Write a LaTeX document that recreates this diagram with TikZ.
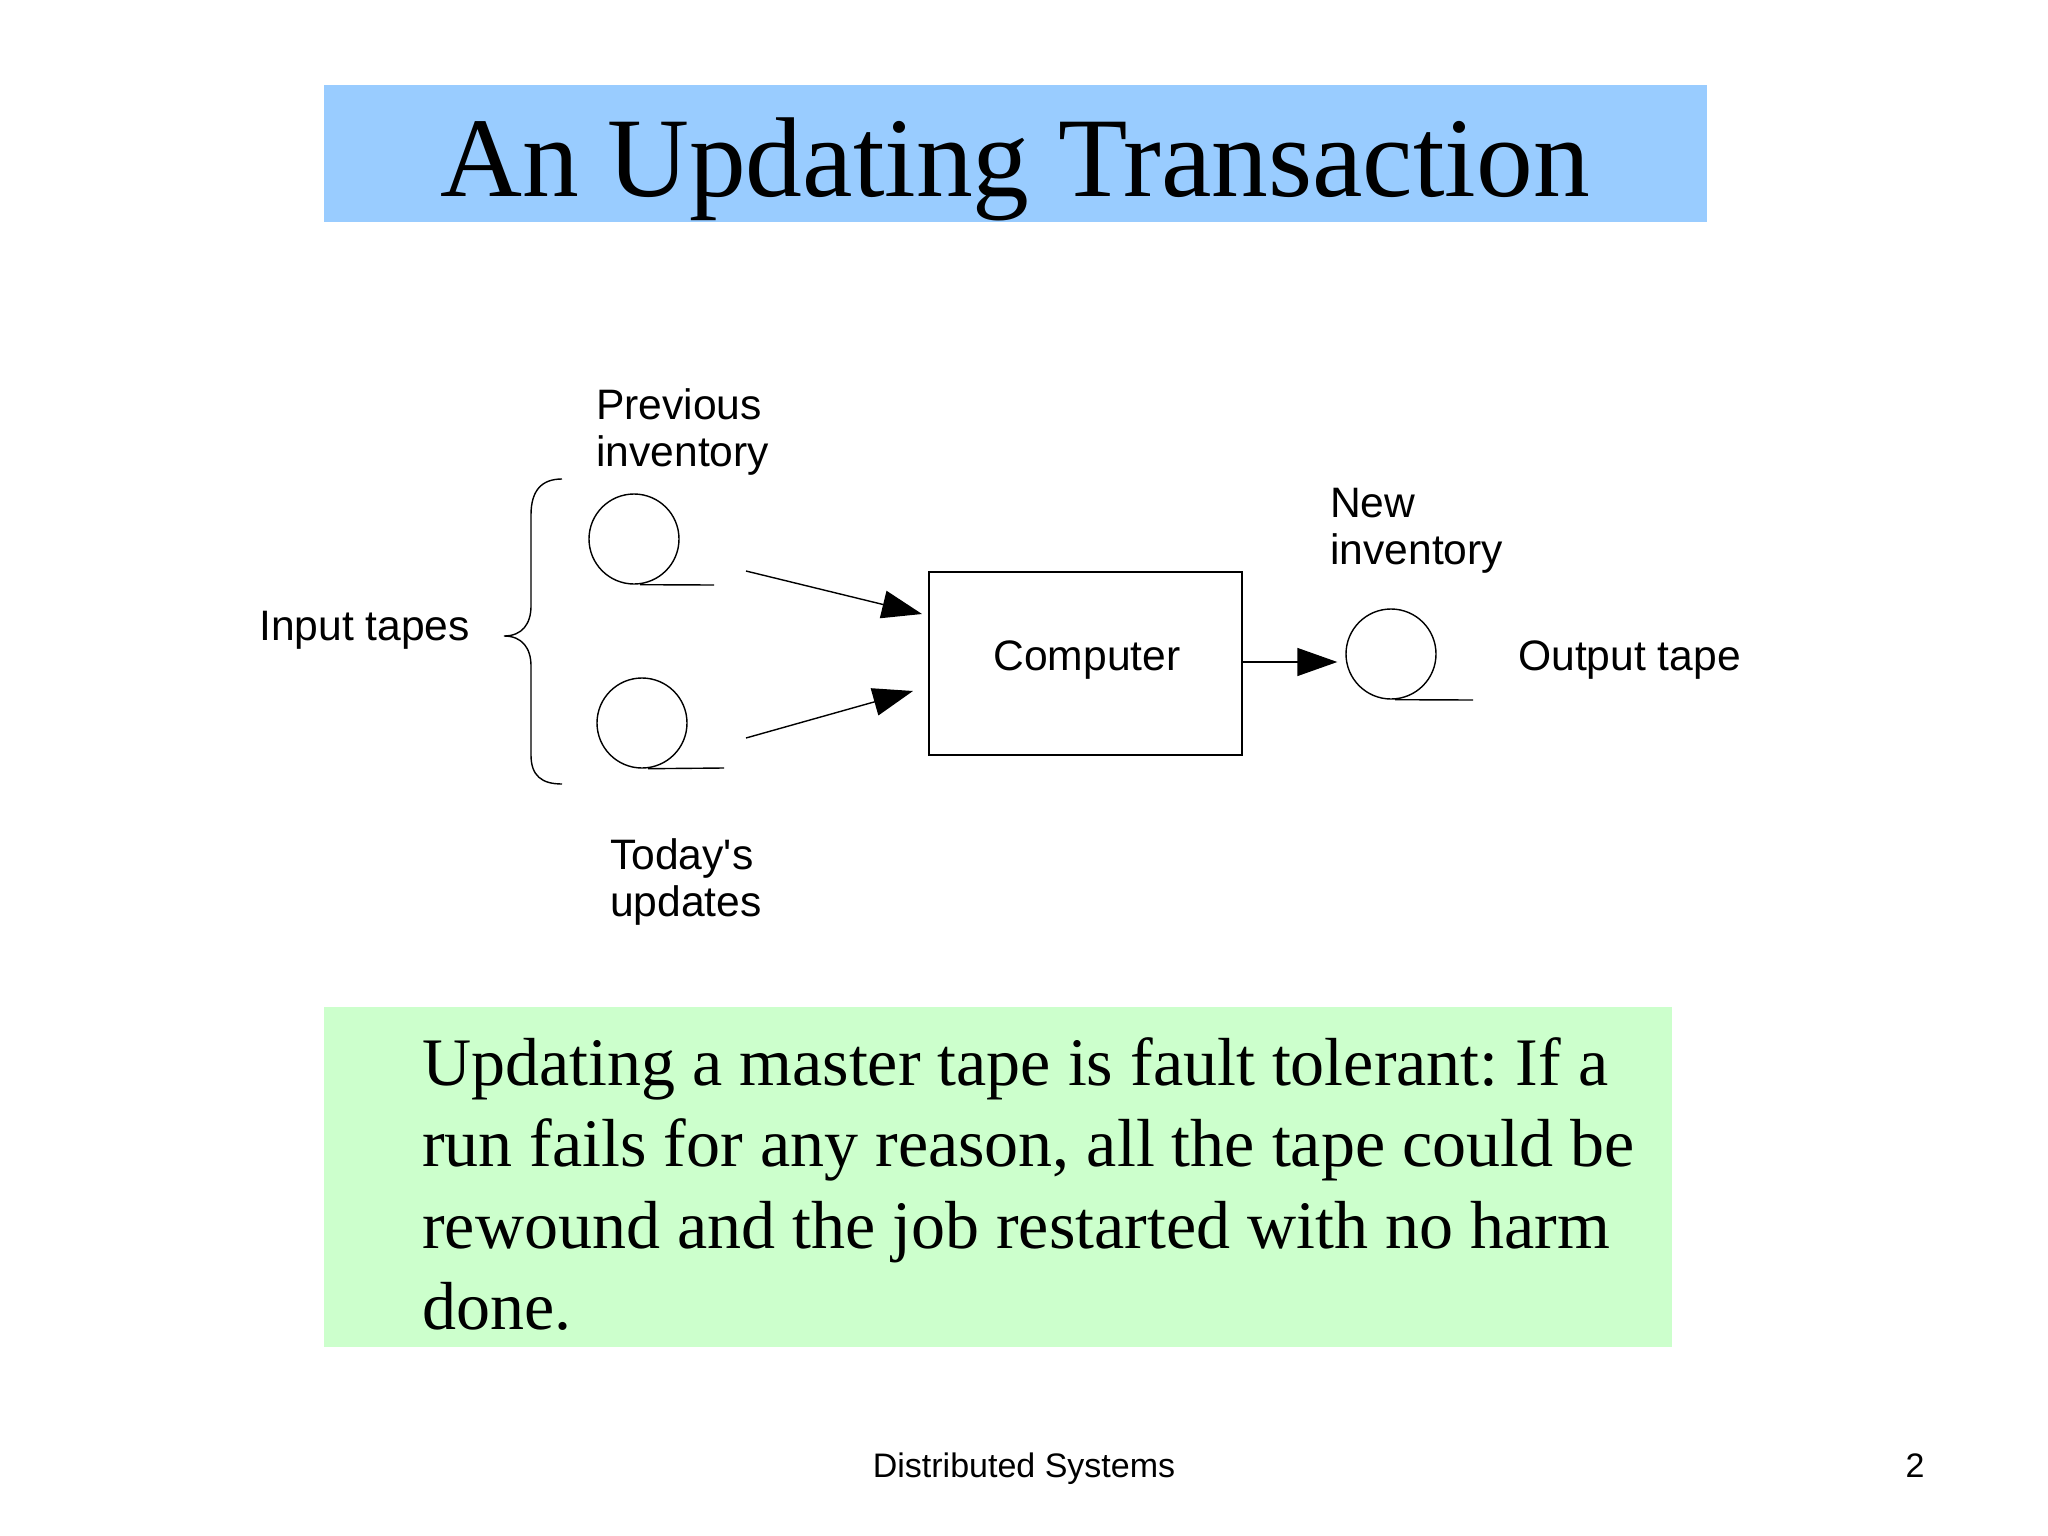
\documentclass[tikz,border=0pt]{standalone}
\usepackage{fontspec}
\setmainfont{Liberation Serif}
\newfontfamily\labelfont{Liberation Sans}
\usetikzlibrary{arrows.meta}
\definecolor{titleblue}{HTML}{99CCFF}
\definecolor{notegreen}{HTML}{CCFFCC}
\frenchspacing
\tikzset{
  lbl/.style={font=\labelfont\fontsize{42.6}{47}\selectfont, inner sep=0pt, align=left, anchor=base west},
  tapecirc/.style={draw, line width=1.4pt},
  thin/.style={line width=1.4pt},
  feed/.style={line width=1.4pt, -{Triangle[length=40pt,width=28pt]}},
}
\begin{document}
\begin{tikzpicture}[x=1pt,y=-1pt]
\useasboundingbox (0,0) rectangle (2048,1536);
\fill[white] (0,0) rectangle (2048,1536);
% title
\fill[titleblue] (324,85) rectangle (1707,222);
\node[font=\fontsize{113.5}{120}\selectfont, inner sep=0pt, anchor=base] (title) at (1015,196) {An Updating Transaction};
% note
\fill[notegreen] (324,1007) rectangle (1672,1347);
\node[font=\fontsize{68}{81.5}\selectfont, inner sep=0pt, align=left, anchor=base west] (note) at (422,1329.5)
 {Updating a master tape is fault tolerant: If a\\run fails for any reason, all the tape could be\\rewound and the job restarted with no harm\\done.};
% tapes
\node[tapecirc, circle, minimum size=90pt, inner sep=0pt] (tapeA) at (634,539) {};
\draw[thin] (tapeA.south) ++(6,0) coordinate (tAa) -- (714,585) coordinate (tAb);
\node[tapecirc, circle, minimum size=90pt, inner sep=0pt] (tapeB) at (642,723) {};
\draw[thin] (tapeB.south) ++(6,0) coordinate (tBa) -- (724,768) coordinate (tBb);
\node[tapecirc, circle, minimum size=90pt, inner sep=0pt] (tapeC) at (1391,654) {};
\draw[thin] (tapeC.south) ++(4,0) coordinate (tCa) -- (1473,700) coordinate (tCb);
% computer
\node[draw, line width=1.6pt, minimum width=313pt, minimum height=183pt, inner sep=0pt] (comp) at (1085.5,663.5) {};
\node[lbl, anchor=base] (complbl) at (1087,670) {Computer};
% arrows
\coordinate (a1s) at (746,571);
\coordinate (a1e) at (922,614);
\coordinate (a2s) at (746,738);
\coordinate (a2e) at (913,691);
\draw[feed] (a1s) -- (a1e);
\draw[feed] (a2s) -- (a2e);
\draw[feed, shorten >=8pt] (comp.east |- 0,662) -- (tapeC.west |- 0,662);
% brace
\draw[thin] (562,479) .. controls (542,479) and (531,490) .. (531,515) -- (531,606) .. controls (531,624) and (522,636) .. (504,636) .. controls (522,636) and (531,648) .. (531,666) -- (531,755) .. controls (531,776) and (542,784) .. (562,784);
% labels
\node[lbl] (prev) at (596,466) {Previous\\inventory};
\node[lbl] (today) at (610,916) {Today's\\updates};
\node[lbl] (input) at (259,640) {Input tapes};
\node[lbl] (newinv) at (1330,564) {New\\inventory};
\node[lbl] (outtape) at (1518,670) {Output tape};
% footer
\node[font=\labelfont\fontsize{34}{40}\selectfont, inner sep=0pt, anchor=base] (footer) at (1024,1477) {Distributed Systems};
\node[font=\labelfont\fontsize{34}{40}\selectfont, inner sep=0pt, anchor=base] (pageno) at (1915,1477) {2};
\end{tikzpicture}
\end{document}
